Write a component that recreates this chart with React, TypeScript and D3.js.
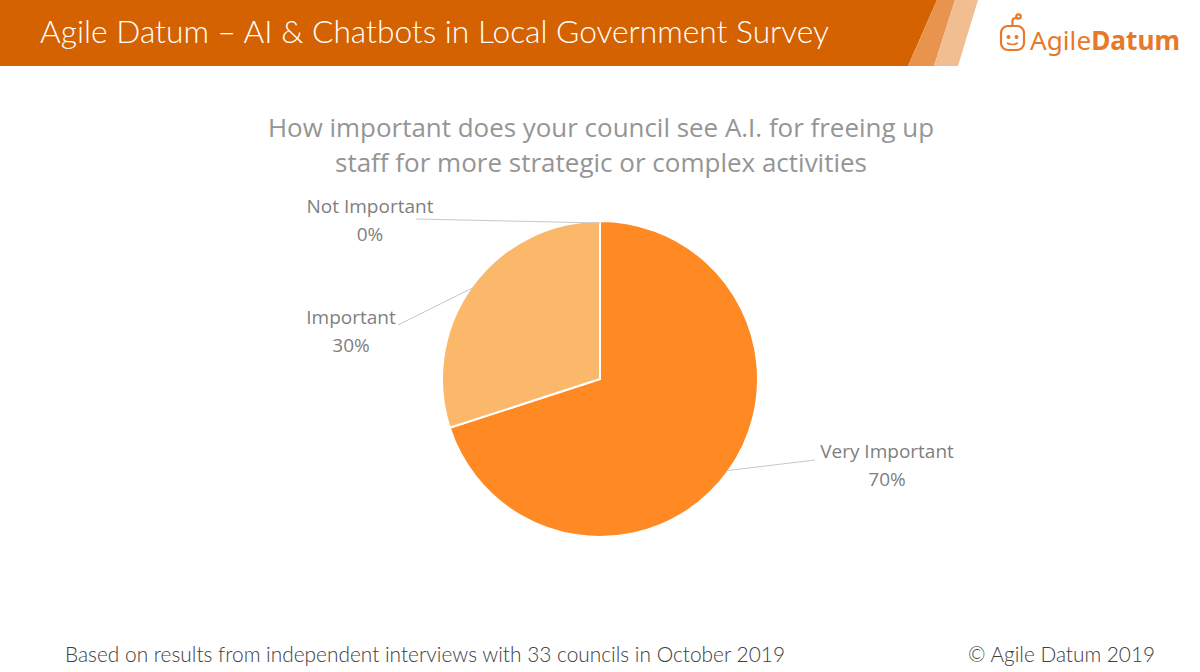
import React from "react";
import * as d3 from "d3";

const categories = ["Very Important", "Important", "Not Important"];
const values = [70, 30, 0];
const colors = ["#FF8A24", "#FBB86B", "#FFD9B0"];

const W = 1200;
const H = 672;

export default function App() {
  const cx = 600, cy = 379, r = 158;
  const pie = d3.pie<number>().sort(null).value((d) => d);
  const arcs = pie(values);
  const arcGen = d3.arc<d3.PieArcDatum<number>>().innerRadius(0).outerRadius(r);

  const labelPos: Record<string, { x: number; y: number; lx: number; ly: number }> = {
    "Very Important": { x: 887, y: 458, lx: 815, ly: 460 },
    "Important": { x: 351, y: 324, lx: 398, ly: 325 },
    "Not Important": { x: 370, y: 213, lx: 416, ly: 219 },
  };

  return (
    <svg width={W} height={H} style={{ position: "absolute", left: 0, top: 0 }}>
      <rect x={0} y={0} width={W} height={H} fill="#ffffff" />
      <polygon points="0,0 937,0 908,66 0,66" fill="#D46200" />
      <polygon points="937,0 955,0 934,66 908,66" fill="#E8944F" />
      <polygon points="955,0 978,0 958,66 934,66" fill="#F1BE91" />
      <text x={40} y={43} fill="#ffffff" fontFamily="Lato" fontWeight={300} fontSize={32} textLength={789} lengthAdjust="spacingAndGlyphs">
        Agile Datum – AI &amp; Chatbots in Local Government Survey
      </text>
      <g stroke="#E8782A" fill="none" strokeWidth={2.2}>
        <rect x={1001} y={26} width={23} height={24} rx={7} />
        <path d="M1012.5,26 L1012.5,21 Q1012.5,18 1016,18" />
        <circle cx={1018.5} cy={16.5} r={2.2} />
        <path d="M1007,43 Q1012.5,46 1018,43" strokeWidth={1.6} />
      </g>
      <circle cx={1008.5} cy={37} r={2} fill="#E8782A" />
      <circle cx={1016.5} cy={37} r={2} fill="#E8782A" />
      <text x={1030} y={50} fill="#E8782A" fontFamily="Noto Sans" fontSize={26} textLength={150} lengthAdjust="spacingAndGlyphs">
        Agile<tspan fontWeight="bold">Datum</tspan>
      </text>

      <g fill="#959595" fontFamily="Open Sans" fontSize={26} textAnchor="middle">
        <text x={601} y={137} textLength={666} lengthAdjust="spacingAndGlyphs">How important does your council see A.I. for freeing up</text>
        <text x={601} y={172}>staff for more strategic or complex activities</text>
      </g>

      <g transform={`translate(${cx},${cy})`}>
        {arcs.map((a, i) => (
          <path key={categories[i]} d={arcGen(a) || ""} fill={colors[i]} stroke="#ffffff" strokeWidth={2} />
        ))}
      </g>

      {arcs.map((a, i) => {
        const name = categories[i];
        const p = labelPos[name];
        const mid = (a.startAngle + a.endAngle) / 2;
        const ex = cx + Math.sin(mid) * (r - 2);
        const ey = cy - Math.cos(mid) * (r - 2);
        return (
          <g key={name}>
            <line x1={ex} y1={ey} x2={p.lx} y2={p.ly} stroke="#C8C8C8" strokeWidth={1} />
            <text x={p.x} y={p.y} textAnchor="middle" fill="#7F7F7F" fontFamily="Open Sans" fontSize={19}>
              {name}
            </text>
            <text x={p.x} y={p.y + 28} textAnchor="middle" fill="#7F7F7F" fontFamily="Open Sans" fontSize={19}>
              {`${values[i]}%`}
            </text>
          </g>
        );
      })}

      <text x={65} y={662} fill="#404040" fontFamily="Lato" fontWeight={300} fontSize={22} textLength={720} lengthAdjust="spacingAndGlyphs">
        Based on results from independent interviews with 33 councils in October 2019
      </text>
      <text x={968} y={662} fill="#404040" fontFamily="Lato" fontWeight={300} fontSize={22} textLength={187} lengthAdjust="spacingAndGlyphs">
        © Agile Datum 2019
      </text>
    </svg>
  );
}
